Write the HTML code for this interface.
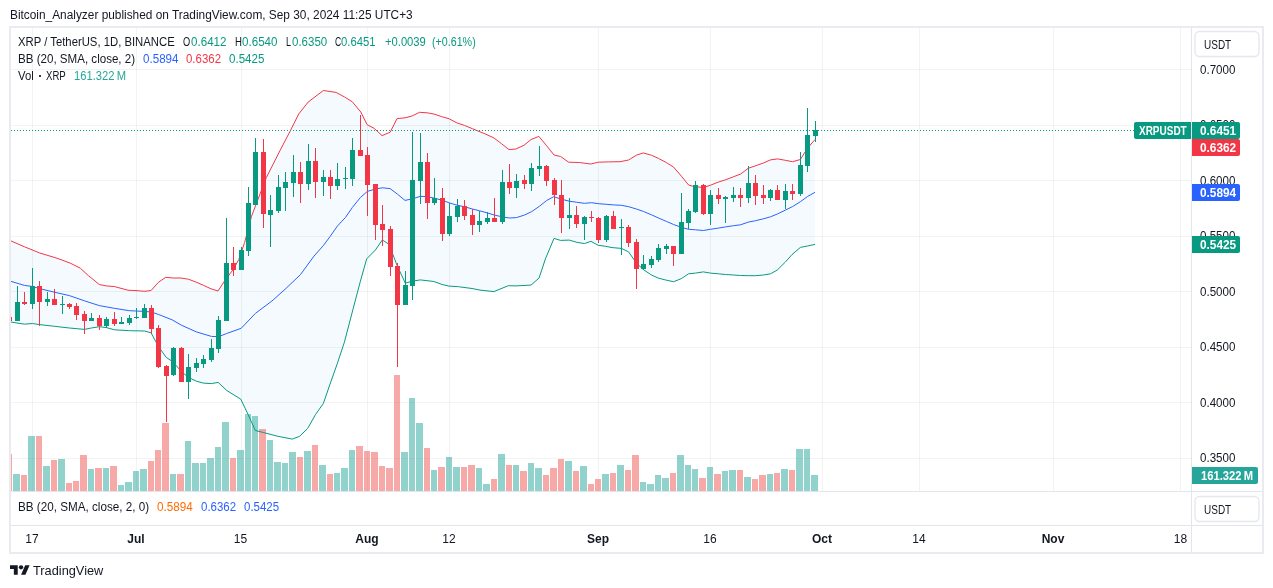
<!DOCTYPE html><html><head><meta charset="utf-8"><title>XRP / TetherUS chart</title><style>
html,body{margin:0;padding:0;background:#fff}body{width:1273px;height:588px;position:relative;overflow:hidden;font-family:"Liberation Sans",sans-serif}
svg{position:absolute;left:0;top:0}.t{position:absolute;white-space:pre;transform-origin:0 0}.lb{position:absolute}.lb .t{color:#fff;font-weight:700}
</style></head><body><div id="tx" style="position:absolute;left:0;top:0;width:1273px;height:588px;will-change:transform">
<svg width="1273" height="588" viewBox="0 0 1273 588" shape-rendering="crispEdges"><defs><clipPath id="cp"><rect x="11" y="28" width="1180" height="463"/></clipPath></defs><g><rect x="32" y="28" width="1" height="463" fill="#2a2e39" fill-opacity="0.06"/><rect x="136" y="28" width="1" height="463" fill="#2a2e39" fill-opacity="0.06"/><rect x="241" y="28" width="1" height="463" fill="#2a2e39" fill-opacity="0.06"/><rect x="367" y="28" width="1" height="463" fill="#2a2e39" fill-opacity="0.06"/><rect x="449" y="28" width="1" height="463" fill="#2a2e39" fill-opacity="0.06"/><rect x="598" y="28" width="1" height="463" fill="#2a2e39" fill-opacity="0.06"/><rect x="710" y="28" width="1" height="463" fill="#2a2e39" fill-opacity="0.06"/><rect x="822" y="28" width="1" height="463" fill="#2a2e39" fill-opacity="0.06"/><rect x="919" y="28" width="1" height="463" fill="#2a2e39" fill-opacity="0.06"/><rect x="1053" y="28" width="1" height="463" fill="#2a2e39" fill-opacity="0.06"/><rect x="1180" y="28" width="1" height="463" fill="#2a2e39" fill-opacity="0.06"/><rect x="11" y="69" width="1180" height="1" fill="#2a2e39" fill-opacity="0.06"/><rect x="11" y="125" width="1180" height="1" fill="#2a2e39" fill-opacity="0.06"/><rect x="11" y="180" width="1180" height="1" fill="#2a2e39" fill-opacity="0.06"/><rect x="11" y="236" width="1180" height="1" fill="#2a2e39" fill-opacity="0.06"/><rect x="11" y="291" width="1180" height="1" fill="#2a2e39" fill-opacity="0.06"/><rect x="11" y="347" width="1180" height="1" fill="#2a2e39" fill-opacity="0.06"/><rect x="11" y="402" width="1180" height="1" fill="#2a2e39" fill-opacity="0.06"/><rect x="11" y="458" width="1180" height="1" fill="#2a2e39" fill-opacity="0.06"/></g><g clip-path="url(#cp)"><polygon shape-rendering="geometricPrecision" fill="#2196f3" fill-opacity="0.05" points="10,240.5 24.5,246.8 39.8,253 55,257.6 62,260 70.8,263.4 80.3,268.2 88.4,275.6 99.3,284.5 106.1,285.9 114.3,286.5 127.9,290.2 136,290.6 145,291.3 151.1,290.5 158.2,282.5 165.7,277.3 173.3,278 180.8,278 188.4,279.2 195.9,282 203.4,285.3 211,288.8 218,291 224.2,281.6 229.8,274 233.6,268.9 238.8,259.4 244.6,242.5 251.5,216.3 266.3,177.6 280,150.6 290.2,131 298.7,114 308.1,102.1 323.4,90.5 336.1,92.4 344.6,97 352.3,101.8 360.8,112 367.1,124.6 374.4,128.5 382,135.6 390.2,132.2 397,118.6 405,117.8 411.8,116.1 419.5,112.3 427.1,112.8 433.9,114 441.6,116.6 449.2,118.8 456.9,122.9 464.5,125.4 472.4,128.7 485.1,133.9 493.9,137.9 501.5,143.7 509,149.6 515.9,149 524.1,145.2 531,139.5 538.9,136.4 546.7,145.8 554,155 560.6,156.5 568.7,162.2 579.4,162.5 590.7,164 598.3,162.2 608.3,161.9 620,161.7 628.6,160 636.4,155.2 643.3,152.9 651.4,155.2 658.3,158.3 666.4,162.6 673.6,167.1 681.4,176.2 688.6,185 692.6,186.2 703.3,187.6 710.5,185.2 718.3,182.1 725.5,179.8 733.6,176.7 740.5,174.1 748.4,168.2 755.5,165.8 763.4,163 770.5,159.9 777.6,158.9 785.4,160.3 792.5,161.7 800.4,159.5 807.5,148.1 815,139.5 815,244.4 807.5,246 800.4,247.4 792,254.6 785.4,262 777.1,270.2 770.5,273.8 763.3,275 755.5,275.7 748.6,275.7 740.5,275.5 733.6,275 725.5,274.5 718.3,273.8 710.5,273.1 703.3,271.9 695.5,273.1 688.6,273.8 681.4,278.6 673.6,281.7 666.4,280.2 658.3,278.1 651.4,275 643.3,269.5 636.4,263.1 628.6,251.9 621.5,248.4 612,247.6 605.7,246.3 598.2,245.3 590.9,241.3 584.4,243.6 576.8,242.3 569.3,240.1 560.5,240.4 554,238.4 545.4,258.9 539.1,278 531,285.1 515.9,285.9 508.3,285.7 493.9,291.6 480,290.1 472,288.5 458.4,286.7 448.9,286.1 442.1,284.5 433.9,281.5 420.3,279.9 412.4,281.2 405.3,283.1 397.4,266.3 389,244.3 382.3,240 375.4,250 366.7,258.9 360.4,281.2 353.1,308.9 344.4,342.2 337.2,363.9 330,384.2 323.3,403.6 315.5,414.5 307.7,428.4 299.6,436.3 292.3,439.1 277.9,436.3 263.4,432.5 255.3,430.5 248.1,414.5 240.8,399.2 226.8,390.5 218.1,382.4 211.4,383.6 203.3,383.1 196.4,381.2 188.8,377.6 181.4,371.7 173.3,362.1 166.2,357.4 158.6,346.7 151,332.8 144.5,331 129.5,330.7 114.4,329.8 106.4,327.6 99.5,326.7 91.4,328 84.4,329.4 69.4,328 54.4,326.3 39.5,324.6 32.4,323.5 24.5,324.2 10,321.9"/><rect x="5" y="454" width="7" height="37" fill="#ef5350" fill-opacity="0.5"/><rect x="13" y="474" width="7" height="17" fill="#26a69a" fill-opacity="0.5"/><rect x="21" y="475" width="6" height="16" fill="#ef5350" fill-opacity="0.5"/><rect x="28" y="436" width="7" height="55" fill="#26a69a" fill-opacity="0.5"/><rect x="36" y="436" width="6" height="55" fill="#ef5350" fill-opacity="0.5"/><rect x="43" y="466" width="7" height="25" fill="#26a69a" fill-opacity="0.5"/><rect x="51" y="460" width="6" height="31" fill="#ef5350" fill-opacity="0.5"/><rect x="58" y="459" width="7" height="32" fill="#26a69a" fill-opacity="0.5"/><rect x="66" y="483" width="6" height="8" fill="#ef5350" fill-opacity="0.5"/><rect x="73" y="481" width="6" height="10" fill="#ef5350" fill-opacity="0.5"/><rect x="80" y="455" width="7" height="36" fill="#ef5350" fill-opacity="0.5"/><rect x="88" y="469" width="6" height="22" fill="#26a69a" fill-opacity="0.5"/><rect x="95" y="468" width="7" height="23" fill="#ef5350" fill-opacity="0.5"/><rect x="103" y="468" width="6" height="23" fill="#26a69a" fill-opacity="0.5"/><rect x="110" y="466" width="7" height="25" fill="#ef5350" fill-opacity="0.5"/><rect x="118" y="485" width="6" height="6" fill="#26a69a" fill-opacity="0.5"/><rect x="125" y="482" width="7" height="9" fill="#26a69a" fill-opacity="0.5"/><rect x="133" y="471" width="6" height="20" fill="#26a69a" fill-opacity="0.5"/><rect x="140" y="469" width="7" height="22" fill="#26a69a" fill-opacity="0.5"/><rect x="148" y="461" width="6" height="30" fill="#ef5350" fill-opacity="0.5"/><rect x="155" y="450" width="6" height="41" fill="#ef5350" fill-opacity="0.5"/><rect x="162" y="423" width="7" height="68" fill="#ef5350" fill-opacity="0.5"/><rect x="170" y="474" width="6" height="17" fill="#26a69a" fill-opacity="0.5"/><rect x="177" y="474" width="7" height="17" fill="#ef5350" fill-opacity="0.5"/><rect x="185" y="441" width="6" height="50" fill="#26a69a" fill-opacity="0.5"/><rect x="192" y="463" width="7" height="28" fill="#26a69a" fill-opacity="0.5"/><rect x="200" y="463" width="6" height="28" fill="#26a69a" fill-opacity="0.5"/><rect x="207" y="458" width="7" height="33" fill="#26a69a" fill-opacity="0.5"/><rect x="215" y="447" width="6" height="44" fill="#26a69a" fill-opacity="0.5"/><rect x="222" y="422" width="7" height="69" fill="#26a69a" fill-opacity="0.5"/><rect x="230" y="458" width="6" height="33" fill="#ef5350" fill-opacity="0.5"/><rect x="237" y="450" width="7" height="41" fill="#26a69a" fill-opacity="0.5"/><rect x="245" y="414" width="6" height="77" fill="#26a69a" fill-opacity="0.5"/><rect x="252" y="416" width="6" height="75" fill="#26a69a" fill-opacity="0.5"/><rect x="259" y="429" width="7" height="62" fill="#ef5350" fill-opacity="0.5"/><rect x="267" y="440" width="6" height="51" fill="#26a69a" fill-opacity="0.5"/><rect x="274" y="462" width="7" height="29" fill="#26a69a" fill-opacity="0.5"/><rect x="282" y="463" width="6" height="28" fill="#26a69a" fill-opacity="0.5"/><rect x="289" y="452" width="7" height="39" fill="#26a69a" fill-opacity="0.5"/><rect x="297" y="457" width="6" height="34" fill="#ef5350" fill-opacity="0.5"/><rect x="304" y="451" width="7" height="40" fill="#26a69a" fill-opacity="0.5"/><rect x="312" y="445" width="6" height="46" fill="#ef5350" fill-opacity="0.5"/><rect x="319" y="465" width="7" height="26" fill="#26a69a" fill-opacity="0.5"/><rect x="327" y="474" width="6" height="17" fill="#ef5350" fill-opacity="0.5"/><rect x="334" y="473" width="6" height="18" fill="#26a69a" fill-opacity="0.5"/><rect x="341" y="468" width="7" height="23" fill="#26a69a" fill-opacity="0.5"/><rect x="349" y="450" width="6" height="41" fill="#26a69a" fill-opacity="0.5"/><rect x="356" y="446" width="7" height="45" fill="#ef5350" fill-opacity="0.5"/><rect x="364" y="451" width="6" height="40" fill="#ef5350" fill-opacity="0.5"/><rect x="371" y="452" width="7" height="39" fill="#ef5350" fill-opacity="0.5"/><rect x="379" y="466" width="6" height="25" fill="#ef5350" fill-opacity="0.5"/><rect x="386" y="468" width="7" height="23" fill="#ef5350" fill-opacity="0.5"/><rect x="394" y="375" width="6" height="116" fill="#ef5350" fill-opacity="0.5"/><rect x="401" y="452" width="7" height="39" fill="#26a69a" fill-opacity="0.5"/><rect x="409" y="398" width="6" height="93" fill="#26a69a" fill-opacity="0.5"/><rect x="416" y="423" width="7" height="68" fill="#26a69a" fill-opacity="0.5"/><rect x="424" y="448" width="6" height="43" fill="#ef5350" fill-opacity="0.5"/><rect x="431" y="470" width="6" height="21" fill="#26a69a" fill-opacity="0.5"/><rect x="438" y="467" width="7" height="24" fill="#ef5350" fill-opacity="0.5"/><rect x="446" y="457" width="6" height="34" fill="#26a69a" fill-opacity="0.5"/><rect x="453" y="467" width="7" height="24" fill="#26a69a" fill-opacity="0.5"/><rect x="461" y="467" width="6" height="24" fill="#ef5350" fill-opacity="0.5"/><rect x="468" y="465" width="7" height="26" fill="#ef5350" fill-opacity="0.5"/><rect x="476" y="468" width="6" height="23" fill="#26a69a" fill-opacity="0.5"/><rect x="483" y="484" width="7" height="7" fill="#26a69a" fill-opacity="0.5"/><rect x="491" y="479" width="6" height="12" fill="#ef5350" fill-opacity="0.5"/><rect x="498" y="454" width="7" height="37" fill="#26a69a" fill-opacity="0.5"/><rect x="506" y="465" width="6" height="26" fill="#ef5350" fill-opacity="0.5"/><rect x="513" y="465" width="6" height="26" fill="#26a69a" fill-opacity="0.5"/><rect x="520" y="471" width="7" height="20" fill="#ef5350" fill-opacity="0.5"/><rect x="528" y="463" width="6" height="28" fill="#26a69a" fill-opacity="0.5"/><rect x="535" y="468" width="7" height="23" fill="#26a69a" fill-opacity="0.5"/><rect x="543" y="475" width="6" height="16" fill="#ef5350" fill-opacity="0.5"/><rect x="550" y="468" width="7" height="23" fill="#ef5350" fill-opacity="0.5"/><rect x="558" y="459" width="6" height="32" fill="#ef5350" fill-opacity="0.5"/><rect x="565" y="461" width="7" height="30" fill="#26a69a" fill-opacity="0.5"/><rect x="573" y="471" width="6" height="20" fill="#ef5350" fill-opacity="0.5"/><rect x="580" y="466" width="7" height="25" fill="#26a69a" fill-opacity="0.5"/><rect x="588" y="484" width="6" height="7" fill="#ef5350" fill-opacity="0.5"/><rect x="595" y="479" width="6" height="12" fill="#ef5350" fill-opacity="0.5"/><rect x="602" y="474" width="7" height="17" fill="#26a69a" fill-opacity="0.5"/><rect x="610" y="473" width="6" height="18" fill="#ef5350" fill-opacity="0.5"/><rect x="617" y="465" width="7" height="26" fill="#26a69a" fill-opacity="0.5"/><rect x="625" y="470" width="6" height="21" fill="#ef5350" fill-opacity="0.5"/><rect x="632" y="455" width="7" height="36" fill="#ef5350" fill-opacity="0.5"/><rect x="640" y="482" width="6" height="9" fill="#26a69a" fill-opacity="0.5"/><rect x="647" y="484" width="7" height="7" fill="#26a69a" fill-opacity="0.5"/><rect x="655" y="475" width="6" height="16" fill="#26a69a" fill-opacity="0.5"/><rect x="662" y="478" width="7" height="13" fill="#26a69a" fill-opacity="0.5"/><rect x="670" y="473" width="6" height="18" fill="#ef5350" fill-opacity="0.5"/><rect x="677" y="455" width="7" height="36" fill="#26a69a" fill-opacity="0.5"/><rect x="685" y="465" width="6" height="26" fill="#26a69a" fill-opacity="0.5"/><rect x="692" y="469" width="6" height="22" fill="#26a69a" fill-opacity="0.5"/><rect x="699" y="478" width="7" height="13" fill="#ef5350" fill-opacity="0.5"/><rect x="707" y="467" width="6" height="24" fill="#26a69a" fill-opacity="0.5"/><rect x="714" y="474" width="7" height="17" fill="#ef5350" fill-opacity="0.5"/><rect x="722" y="471" width="6" height="20" fill="#26a69a" fill-opacity="0.5"/><rect x="729" y="470" width="7" height="21" fill="#26a69a" fill-opacity="0.5"/><rect x="737" y="470" width="6" height="21" fill="#ef5350" fill-opacity="0.5"/><rect x="744" y="477" width="7" height="14" fill="#26a69a" fill-opacity="0.5"/><rect x="752" y="479" width="6" height="12" fill="#ef5350" fill-opacity="0.5"/><rect x="759" y="475" width="7" height="16" fill="#ef5350" fill-opacity="0.5"/><rect x="767" y="474" width="6" height="17" fill="#26a69a" fill-opacity="0.5"/><rect x="774" y="473" width="6" height="18" fill="#ef5350" fill-opacity="0.5"/><rect x="781" y="469" width="7" height="22" fill="#26a69a" fill-opacity="0.5"/><rect x="789" y="470" width="6" height="21" fill="#ef5350" fill-opacity="0.5"/><rect x="796" y="449" width="7" height="42" fill="#26a69a" fill-opacity="0.5"/><rect x="804" y="449" width="6" height="42" fill="#26a69a" fill-opacity="0.5"/><rect x="811" y="475" width="7" height="16" fill="#26a69a" fill-opacity="0.5"/><polyline shape-rendering="geometricPrecision" fill="none" stroke="#f23645" stroke-width="1" stroke-linejoin="round" points="10,240.5 24.5,246.8 39.8,253 55,257.6 62,260 70.8,263.4 80.3,268.2 88.4,275.6 99.3,284.5 106.1,285.9 114.3,286.5 127.9,290.2 136,290.6 145,291.3 151.1,290.5 158.2,282.5 165.7,277.3 173.3,278 180.8,278 188.4,279.2 195.9,282 203.4,285.3 211,288.8 218,291 224.2,281.6 229.8,274 233.6,268.9 238.8,259.4 244.6,242.5 251.5,216.3 266.3,177.6 280,150.6 290.2,131 298.7,114 308.1,102.1 323.4,90.5 336.1,92.4 344.6,97 352.3,101.8 360.8,112 367.1,124.6 374.4,128.5 382,135.6 390.2,132.2 397,118.6 405,117.8 411.8,116.1 419.5,112.3 427.1,112.8 433.9,114 441.6,116.6 449.2,118.8 456.9,122.9 464.5,125.4 472.4,128.7 485.1,133.9 493.9,137.9 501.5,143.7 509,149.6 515.9,149 524.1,145.2 531,139.5 538.9,136.4 546.7,145.8 554,155 560.6,156.5 568.7,162.2 579.4,162.5 590.7,164 598.3,162.2 608.3,161.9 620,161.7 628.6,160 636.4,155.2 643.3,152.9 651.4,155.2 658.3,158.3 666.4,162.6 673.6,167.1 681.4,176.2 688.6,185 692.6,186.2 703.3,187.6 710.5,185.2 718.3,182.1 725.5,179.8 733.6,176.7 740.5,174.1 748.4,168.2 755.5,165.8 763.4,163 770.5,159.9 777.6,158.9 785.4,160.3 792.5,161.7 800.4,159.5 807.5,148.1 815,139.5"/><polyline shape-rendering="geometricPrecision" fill="none" stroke="#089981" stroke-width="1" stroke-linejoin="round" points="10,321.9 24.5,324.2 32.4,323.5 39.5,324.6 54.4,326.3 69.4,328 84.4,329.4 91.4,328 99.5,326.7 106.4,327.6 114.4,329.8 129.5,330.7 144.5,331 151,332.8 158.6,346.7 166.2,357.4 173.3,362.1 181.4,371.7 188.8,377.6 196.4,381.2 203.3,383.1 211.4,383.6 218.1,382.4 226.8,390.5 240.8,399.2 248.1,414.5 255.3,430.5 263.4,432.5 277.9,436.3 292.3,439.1 299.6,436.3 307.7,428.4 315.5,414.5 323.3,403.6 330,384.2 337.2,363.9 344.4,342.2 353.1,308.9 360.4,281.2 366.7,258.9 375.4,250 382.3,240 389,244.3 397.4,266.3 405.3,283.1 412.4,281.2 420.3,279.9 433.9,281.5 442.1,284.5 448.9,286.1 458.4,286.7 472,288.5 480,290.1 493.9,291.6 508.3,285.7 515.9,285.9 531,285.1 539.1,278 545.4,258.9 554,238.4 560.5,240.4 569.3,240.1 576.8,242.3 584.4,243.6 590.9,241.3 598.2,245.3 605.7,246.3 612,247.6 621.5,248.4 628.6,251.9 636.4,263.1 643.3,269.5 651.4,275 658.3,278.1 666.4,280.2 673.6,281.7 681.4,278.6 688.6,273.8 695.5,273.1 703.3,271.9 710.5,273.1 718.3,273.8 725.5,274.5 733.6,275 740.5,275.5 748.6,275.7 755.5,275.7 763.3,275 770.5,273.8 777.1,270.2 785.4,262 792,254.6 800.4,247.4 807.5,246 815,244.4"/><polyline shape-rendering="geometricPrecision" fill="none" stroke="#2962ff" stroke-width="1" stroke-linejoin="round" points="10,281.1 24.5,285.4 32.4,286.5 39.5,288.6 54.4,292.2 69.4,295.6 84.4,300.8 99.3,305.6 114.3,308.3 129.3,310.7 144.2,311.4 151.4,312 158.6,314.5 172.1,319.8 181.4,325.2 196.4,331.9 211.4,336.4 218.6,336.7 226.4,333.6 241.2,328.3 255.5,313.3 269.8,302.6 273.1,300 285,289.3 300.3,274.8 314,256.1 323.4,245.5 330,236.6 337.3,226.2 345.5,217.4 352.4,207.4 360.4,197.5 367.4,191.4 375.4,189 382.3,187.8 390.1,188.6 397.4,194.1 405,200.4 412.6,198.8 420.5,196.3 427.4,196.7 434.4,198.2 442.3,200.2 449.3,202.9 457.4,205.3 464.4,206.7 472.3,209 479.6,210.8 487.3,212.9 494.5,215.1 502.4,216.9 509.4,218 516.5,217.6 524.3,215.1 531.4,211.8 539.4,206.3 546.5,200.6 553.7,196.7 561.4,199.2 569.4,201.2 576.3,202.2 584.5,203.3 591.4,202.7 598.6,203.7 606.3,204.3 613.5,204.9 621.4,205.3 628.6,206.7 636.4,209 643.3,211.4 651.4,214.8 658.3,217.9 666.4,221.4 673.6,224.5 681.4,227.4 688.6,229.3 695.5,229.8 703.3,230.5 710.5,229.3 718.3,228.1 725.5,226.9 733.6,225.7 740.5,224.8 748.4,222.1 755.5,220.7 763.4,218.8 770.5,216.8 777.6,213.9 785.4,210.1 792.5,206.6 800.4,201.7 807.5,196.5 815,192.3"/><line x1="11" y1="130.5" x2="1134" y2="130.5" stroke="#089981" stroke-width="1" stroke-dasharray="1 2"/><rect x="9" y="317" width="1" height="4" fill="#f23645"/><rect x="7" y="317" width="5" height="4" fill="#f23645"/><rect x="17" y="286" width="1" height="35" fill="#089981"/><rect x="15" y="302" width="5" height="19" fill="#089981"/><rect x="24" y="292" width="1" height="13" fill="#f23645"/><rect x="22" y="302" width="5" height="2" fill="#f23645"/><rect x="32" y="268" width="1" height="41" fill="#089981"/><rect x="30" y="286" width="5" height="18" fill="#089981"/><rect x="39" y="281" width="1" height="45" fill="#f23645"/><rect x="37" y="286" width="5" height="16" fill="#f23645"/><rect x="47" y="292" width="1" height="14" fill="#089981"/><rect x="45" y="299" width="5" height="3" fill="#089981"/><rect x="54" y="289" width="1" height="16" fill="#f23645"/><rect x="52" y="299" width="5" height="6" fill="#f23645"/><rect x="62" y="296" width="1" height="18" fill="#089981"/><rect x="60" y="304" width="5" height="1" fill="#089981"/><rect x="69" y="303" width="1" height="6" fill="#f23645"/><rect x="67" y="304" width="5" height="3" fill="#f23645"/><rect x="76" y="303" width="1" height="17" fill="#f23645"/><rect x="74" y="306" width="5" height="9" fill="#f23645"/><rect x="84" y="311" width="1" height="23" fill="#f23645"/><rect x="82" y="314" width="5" height="7" fill="#f23645"/><rect x="91" y="313" width="1" height="8" fill="#089981"/><rect x="89" y="318" width="5" height="3" fill="#089981"/><rect x="99" y="315" width="1" height="15" fill="#f23645"/><rect x="97" y="318" width="5" height="8" fill="#f23645"/><rect x="106" y="317" width="1" height="11" fill="#089981"/><rect x="104" y="319" width="5" height="7" fill="#089981"/><rect x="114" y="312" width="1" height="14" fill="#f23645"/><rect x="112" y="319" width="5" height="5" fill="#f23645"/><rect x="121" y="317" width="1" height="7" fill="#089981"/><rect x="119" y="322" width="5" height="2" fill="#089981"/><rect x="129" y="315" width="1" height="10" fill="#089981"/><rect x="127" y="318" width="5" height="5" fill="#089981"/><rect x="136" y="308" width="1" height="11" fill="#089981"/><rect x="134" y="317" width="5" height="1" fill="#089981"/><rect x="144" y="304" width="1" height="14" fill="#089981"/><rect x="142" y="308" width="5" height="10" fill="#089981"/><rect x="151" y="305" width="1" height="29" fill="#f23645"/><rect x="149" y="308" width="5" height="21" fill="#f23645"/><rect x="158" y="325" width="1" height="43" fill="#f23645"/><rect x="156" y="328" width="5" height="39" fill="#f23645"/><rect x="166" y="365" width="1" height="57" fill="#f23645"/><rect x="164" y="366" width="5" height="10" fill="#f23645"/><rect x="173" y="347" width="1" height="29" fill="#089981"/><rect x="171" y="348" width="5" height="27" fill="#089981"/><rect x="181" y="347" width="1" height="35" fill="#f23645"/><rect x="179" y="348" width="5" height="34" fill="#f23645"/><rect x="188" y="354" width="1" height="45" fill="#089981"/><rect x="186" y="367" width="5" height="15" fill="#089981"/><rect x="196" y="358" width="1" height="14" fill="#089981"/><rect x="194" y="363" width="5" height="5" fill="#089981"/><rect x="203" y="355" width="1" height="13" fill="#089981"/><rect x="201" y="359" width="5" height="5" fill="#089981"/><rect x="211" y="339" width="1" height="23" fill="#089981"/><rect x="209" y="348" width="5" height="12" fill="#089981"/><rect x="218" y="316" width="1" height="37" fill="#089981"/><rect x="216" y="320" width="5" height="29" fill="#089981"/><rect x="226" y="218" width="1" height="103" fill="#089981"/><rect x="224" y="263" width="5" height="58" fill="#089981"/><rect x="233" y="247" width="1" height="29" fill="#f23645"/><rect x="231" y="263" width="5" height="7" fill="#f23645"/><rect x="241" y="247" width="1" height="23" fill="#089981"/><rect x="239" y="250" width="5" height="20" fill="#089981"/><rect x="248" y="187" width="1" height="69" fill="#089981"/><rect x="246" y="203" width="5" height="48" fill="#089981"/><rect x="255" y="138" width="1" height="67" fill="#089981"/><rect x="253" y="152" width="5" height="53" fill="#089981"/><rect x="263" y="139" width="1" height="89" fill="#f23645"/><rect x="261" y="152" width="5" height="62" fill="#f23645"/><rect x="270" y="195" width="1" height="52" fill="#089981"/><rect x="268" y="210" width="5" height="5" fill="#089981"/><rect x="278" y="175" width="1" height="38" fill="#089981"/><rect x="276" y="187" width="5" height="24" fill="#089981"/><rect x="285" y="172" width="1" height="39" fill="#089981"/><rect x="283" y="182" width="5" height="6" fill="#089981"/><rect x="293" y="155" width="1" height="42" fill="#089981"/><rect x="291" y="172" width="5" height="11" fill="#089981"/><rect x="300" y="162" width="1" height="41" fill="#f23645"/><rect x="298" y="172" width="5" height="12" fill="#f23645"/><rect x="308" y="144" width="1" height="46" fill="#089981"/><rect x="306" y="161" width="5" height="23" fill="#089981"/><rect x="315" y="148" width="1" height="50" fill="#f23645"/><rect x="313" y="161" width="5" height="21" fill="#f23645"/><rect x="323" y="170" width="1" height="26" fill="#089981"/><rect x="321" y="177" width="5" height="5" fill="#089981"/><rect x="330" y="170" width="1" height="29" fill="#f23645"/><rect x="328" y="177" width="5" height="9" fill="#f23645"/><rect x="337" y="163" width="1" height="27" fill="#089981"/><rect x="335" y="179" width="5" height="7" fill="#089981"/><rect x="345" y="167" width="1" height="22" fill="#089981"/><rect x="343" y="178" width="5" height="1" fill="#089981"/><rect x="352" y="138" width="1" height="48" fill="#089981"/><rect x="350" y="150" width="5" height="29" fill="#089981"/><rect x="360" y="115" width="1" height="41" fill="#f23645"/><rect x="358" y="150" width="5" height="6" fill="#f23645"/><rect x="367" y="147" width="1" height="69" fill="#f23645"/><rect x="365" y="155" width="5" height="30" fill="#f23645"/><rect x="375" y="184" width="1" height="56" fill="#f23645"/><rect x="373" y="184" width="5" height="41" fill="#f23645"/><rect x="382" y="205" width="1" height="41" fill="#f23645"/><rect x="380" y="224" width="5" height="6" fill="#f23645"/><rect x="390" y="226" width="1" height="50" fill="#f23645"/><rect x="388" y="229" width="5" height="38" fill="#f23645"/><rect x="397" y="263" width="1" height="104" fill="#f23645"/><rect x="395" y="266" width="5" height="39" fill="#f23645"/><rect x="405" y="271" width="1" height="34" fill="#089981"/><rect x="403" y="285" width="5" height="20" fill="#089981"/><rect x="412" y="132" width="1" height="168" fill="#089981"/><rect x="410" y="180" width="5" height="106" fill="#089981"/><rect x="420" y="133" width="1" height="71" fill="#089981"/><rect x="418" y="162" width="5" height="19" fill="#089981"/><rect x="427" y="153" width="1" height="66" fill="#f23645"/><rect x="425" y="162" width="5" height="41" fill="#f23645"/><rect x="434" y="178" width="1" height="27" fill="#089981"/><rect x="432" y="198" width="5" height="5" fill="#089981"/><rect x="442" y="188" width="1" height="53" fill="#f23645"/><rect x="440" y="198" width="5" height="36" fill="#f23645"/><rect x="449" y="203" width="1" height="33" fill="#089981"/><rect x="447" y="216" width="5" height="18" fill="#089981"/><rect x="457" y="199" width="1" height="23" fill="#089981"/><rect x="455" y="206" width="5" height="11" fill="#089981"/><rect x="464" y="200" width="1" height="20" fill="#f23645"/><rect x="462" y="206" width="5" height="10" fill="#f23645"/><rect x="472" y="209" width="1" height="26" fill="#f23645"/><rect x="470" y="215" width="5" height="10" fill="#f23645"/><rect x="479" y="211" width="1" height="21" fill="#089981"/><rect x="477" y="221" width="5" height="4" fill="#089981"/><rect x="487" y="212" width="1" height="12" fill="#089981"/><rect x="485" y="218" width="5" height="4" fill="#089981"/><rect x="494" y="198" width="1" height="24" fill="#f23645"/><rect x="492" y="218" width="5" height="4" fill="#f23645"/><rect x="502" y="170" width="1" height="54" fill="#089981"/><rect x="500" y="182" width="5" height="40" fill="#089981"/><rect x="509" y="164" width="1" height="30" fill="#f23645"/><rect x="507" y="182" width="5" height="6" fill="#f23645"/><rect x="516" y="174" width="1" height="24" fill="#089981"/><rect x="514" y="181" width="5" height="7" fill="#089981"/><rect x="524" y="175" width="1" height="14" fill="#f23645"/><rect x="522" y="180" width="5" height="4" fill="#f23645"/><rect x="531" y="163" width="1" height="28" fill="#089981"/><rect x="529" y="168" width="5" height="16" fill="#089981"/><rect x="539" y="146" width="1" height="30" fill="#089981"/><rect x="537" y="166" width="5" height="3" fill="#089981"/><rect x="546" y="165" width="1" height="21" fill="#f23645"/><rect x="544" y="166" width="5" height="15" fill="#f23645"/><rect x="554" y="178" width="1" height="27" fill="#f23645"/><rect x="552" y="180" width="5" height="15" fill="#f23645"/><rect x="561" y="180" width="1" height="53" fill="#f23645"/><rect x="559" y="195" width="5" height="23" fill="#f23645"/><rect x="569" y="198" width="1" height="31" fill="#089981"/><rect x="567" y="215" width="5" height="3" fill="#089981"/><rect x="576" y="206" width="1" height="22" fill="#f23645"/><rect x="574" y="215" width="5" height="9" fill="#f23645"/><rect x="584" y="216" width="1" height="24" fill="#089981"/><rect x="582" y="217" width="5" height="7" fill="#089981"/><rect x="591" y="211" width="1" height="11" fill="#f23645"/><rect x="589" y="217" width="5" height="1" fill="#f23645"/><rect x="598" y="217" width="1" height="26" fill="#f23645"/><rect x="596" y="218" width="5" height="22" fill="#f23645"/><rect x="606" y="215" width="1" height="27" fill="#089981"/><rect x="604" y="216" width="5" height="24" fill="#089981"/><rect x="613" y="211" width="1" height="18" fill="#f23645"/><rect x="611" y="216" width="5" height="13" fill="#f23645"/><rect x="621" y="219" width="1" height="36" fill="#089981"/><rect x="619" y="227" width="5" height="1" fill="#089981"/><rect x="628" y="225" width="1" height="22" fill="#f23645"/><rect x="626" y="227" width="5" height="16" fill="#f23645"/><rect x="636" y="239" width="1" height="50" fill="#f23645"/><rect x="634" y="242" width="5" height="27" fill="#f23645"/><rect x="643" y="255" width="1" height="15" fill="#089981"/><rect x="641" y="264" width="5" height="5" fill="#089981"/><rect x="651" y="256" width="1" height="12" fill="#089981"/><rect x="649" y="259" width="5" height="6" fill="#089981"/><rect x="658" y="244" width="1" height="18" fill="#089981"/><rect x="656" y="248" width="5" height="12" fill="#089981"/><rect x="666" y="244" width="1" height="10" fill="#089981"/><rect x="664" y="246" width="5" height="3" fill="#089981"/><rect x="673" y="246" width="1" height="20" fill="#f23645"/><rect x="671" y="246" width="5" height="8" fill="#f23645"/><rect x="681" y="193" width="1" height="61" fill="#089981"/><rect x="679" y="222" width="5" height="32" fill="#089981"/><rect x="688" y="209" width="1" height="20" fill="#089981"/><rect x="686" y="211" width="5" height="12" fill="#089981"/><rect x="695" y="181" width="1" height="32" fill="#089981"/><rect x="693" y="185" width="5" height="27" fill="#089981"/><rect x="703" y="184" width="1" height="31" fill="#f23645"/><rect x="701" y="185" width="5" height="29" fill="#f23645"/><rect x="710" y="190" width="1" height="35" fill="#089981"/><rect x="708" y="195" width="5" height="19" fill="#089981"/><rect x="718" y="188" width="1" height="16" fill="#f23645"/><rect x="716" y="195" width="5" height="4" fill="#f23645"/><rect x="725" y="196" width="1" height="27" fill="#089981"/><rect x="723" y="197" width="5" height="2" fill="#089981"/><rect x="733" y="187" width="1" height="15" fill="#089981"/><rect x="731" y="195" width="5" height="3" fill="#089981"/><rect x="740" y="188" width="1" height="19" fill="#f23645"/><rect x="738" y="195" width="5" height="3" fill="#f23645"/><rect x="748" y="166" width="1" height="37" fill="#089981"/><rect x="746" y="183" width="5" height="15" fill="#089981"/><rect x="755" y="175" width="1" height="30" fill="#f23645"/><rect x="753" y="183" width="5" height="13" fill="#f23645"/><rect x="763" y="185" width="1" height="19" fill="#f23645"/><rect x="761" y="195" width="5" height="3" fill="#f23645"/><rect x="770" y="189" width="1" height="12" fill="#089981"/><rect x="768" y="190" width="5" height="8" fill="#089981"/><rect x="777" y="185" width="1" height="15" fill="#f23645"/><rect x="775" y="190" width="5" height="10" fill="#f23645"/><rect x="785" y="184" width="1" height="25" fill="#089981"/><rect x="783" y="191" width="5" height="9" fill="#089981"/><rect x="792" y="184" width="1" height="16" fill="#f23645"/><rect x="790" y="191" width="5" height="3" fill="#f23645"/><rect x="800" y="152" width="1" height="44" fill="#089981"/><rect x="798" y="165" width="5" height="29" fill="#089981"/><rect x="807" y="108" width="1" height="64" fill="#089981"/><rect x="805" y="135" width="5" height="31" fill="#089981"/><rect x="815" y="121" width="1" height="21" fill="#089981"/><rect x="813" y="130" width="5" height="6" fill="#089981"/></g><rect x="10" y="27" width="1253" height="526" fill="none" stroke="#e9ebf1" stroke-width="2"/><rect x="1191" y="28" width="1" height="524" fill="#e3e5ec"/><rect x="11" y="491" width="1251" height="1" fill="#e3e5ec"/><rect x="11" y="525" width="1251" height="1" fill="#e3e5ec"/><rect shape-rendering="geometricPrecision" x="1195" y="31.5" width="64" height="25" rx="4.5" fill="#fff" stroke="#e6e8ef" stroke-width="1.4"/><rect shape-rendering="geometricPrecision" x="1195" y="496.5" width="64" height="25" rx="4.5" fill="#fff" stroke="#e6e8ef" stroke-width="1.4"/><rect x="39" y="75" width="2" height="2" fill="#131722" fill-opacity="0.85"/></svg>
<svg width="1273" height="588" viewBox="0 0 1273 588" style="pointer-events:none"><g transform="translate(10,563.2) scale(0.552,0.52)" fill="#131722"><path d="M14 22H7V11H0V4h14v18z"/><circle cx="20" cy="8" r="4"/><path d="M28 22h-8l7.500-18h8L28 22z"/></g></svg>
<span class="t" id="t0" style="top:9.00px;font-size:12px;line-height:12px;color:#131722;left:10.10px;transform:scaleX(0.9883);">Bitcoin_Analyzer published on TradingView.com, Sep 30, 2024 11:25 UTC+3</span>
<span class="t" id="t1" style="top:36.00px;font-size:12px;line-height:12px;color:#131722;left:17.90px;transform:scaleX(0.9423);">XRP / TetherUS, 1D, BINANCE</span>
<span class="t" id="t2" style="top:36.00px;font-size:12px;line-height:12px;color:#131722;left:183.20px;transform:scaleX(0.7706);">O</span>
<span class="t" id="t3" style="top:36.00px;font-size:12px;line-height:12px;color:#089981;left:191.10px;transform:scaleX(0.9672);">0.6412</span>
<span class="t" id="t4" style="top:36.00px;font-size:12px;line-height:12px;color:#131722;left:234.70px;transform:scaleX(0.7957);">H</span>
<span class="t" id="t5" style="top:36.00px;font-size:12px;line-height:12px;color:#089981;left:242.30px;transform:scaleX(0.9672);">0.6540</span>
<span class="t" id="t6" style="top:36.00px;font-size:12px;line-height:12px;color:#131722;left:285.90px;transform:scaleX(0.7477);">L</span>
<span class="t" id="t7" style="top:36.00px;font-size:12px;line-height:12px;color:#089981;left:291.70px;transform:scaleX(0.9590);">0.6350</span>
<span class="t" id="t8" style="top:36.00px;font-size:12px;line-height:12px;color:#131722;left:334.50px;transform:scaleX(0.7150);">C</span>
<span class="t" id="t9" style="top:36.00px;font-size:12px;line-height:12px;color:#089981;left:341.40px;transform:scaleX(0.9400);">0.6451</span>
<span class="t" id="t10" style="top:36.00px;font-size:12px;line-height:12px;color:#089981;left:385.40px;transform:scaleX(0.9332);">+0.0039</span>
<span class="t" id="t11" style="top:36.00px;font-size:12px;line-height:12px;color:#089981;left:431.50px;transform:scaleX(0.8913);">(+0.61%)</span>
<span class="t" id="t12" style="top:53.00px;font-size:12px;line-height:12px;color:#131722;left:17.90px;transform:scaleX(0.9647);">BB (20, SMA, close, 2)</span>
<span class="t" id="t13" style="top:53.00px;font-size:12px;line-height:12px;color:#2962ff;left:142.90px;transform:scaleX(0.9672);">0.5894</span>
<span class="t" id="t14" style="top:53.00px;font-size:12px;line-height:12px;color:#f23645;left:186.30px;transform:scaleX(0.9536);">0.6362</span>
<span class="t" id="t15" style="top:53.00px;font-size:12px;line-height:12px;color:#089981;left:229.10px;transform:scaleX(0.9645);">0.5425</span>
<span class="t" id="t16" style="top:70.00px;font-size:12px;line-height:12px;color:#131722;left:17.90px;transform:scaleX(0.9408);">Vol</span>
<span class="t" id="t17" style="top:70.00px;font-size:12px;line-height:12px;color:#131722;left:45.80px;transform:scaleX(0.8020);">XRP</span>
<span class="t" id="t18" style="top:70.00px;font-size:12px;line-height:12px;color:#26a69a;left:73.90px;transform:scaleX(0.9340);">161.322 M</span>
<span class="t" id="t19" style="top:501.00px;font-size:12px;line-height:12px;color:#131722;left:18.20px;transform:scaleX(0.9731);">BB (20, SMA, close, 2, 0)</span>
<span class="t" id="t20" style="top:501.00px;font-size:12px;line-height:12px;color:#ff6d00;left:157.40px;transform:scaleX(0.9754);">0.5894</span>
<span class="t" id="t21" style="top:501.00px;font-size:12px;line-height:12px;color:#2962ff;left:200.70px;transform:scaleX(0.9563);">0.6362</span>
<span class="t" id="t22" style="top:501.00px;font-size:12px;line-height:12px;color:#2962ff;left:243.90px;transform:scaleX(0.9563);">0.5425</span>
<span class="t" id="t23" style="top:533.00px;font-size:12px;line-height:12px;color:#131722;left:-18.00px;width:100px;text-align:center;">17</span>
<span class="t" id="t24" style="top:533.00px;font-size:12px;line-height:12px;color:#131722;font-weight:700;left:86.00px;width:100px;text-align:center;">Jul</span>
<span class="t" id="t25" style="top:533.00px;font-size:12px;line-height:12px;color:#131722;left:190.50px;width:100px;text-align:center;">15</span>
<span class="t" id="t26" style="top:533.00px;font-size:12px;line-height:12px;color:#131722;font-weight:700;left:317.00px;width:100px;text-align:center;">Aug</span>
<span class="t" id="t27" style="top:533.00px;font-size:12px;line-height:12px;color:#131722;left:399.00px;width:100px;text-align:center;">12</span>
<span class="t" id="t28" style="top:533.00px;font-size:12px;line-height:12px;color:#131722;font-weight:700;left:548.00px;width:100px;text-align:center;">Sep</span>
<span class="t" id="t29" style="top:533.00px;font-size:12px;line-height:12px;color:#131722;left:660.00px;width:100px;text-align:center;">16</span>
<span class="t" id="t30" style="top:533.00px;font-size:12px;line-height:12px;color:#131722;font-weight:700;left:772.00px;width:100px;text-align:center;">Oct</span>
<span class="t" id="t31" style="top:533.00px;font-size:12px;line-height:12px;color:#131722;left:869.00px;width:100px;text-align:center;">14</span>
<span class="t" id="t32" style="top:533.00px;font-size:12px;line-height:12px;color:#131722;font-weight:700;left:1003.00px;width:100px;text-align:center;">Nov</span>
<span class="t" id="t33" style="top:533.00px;font-size:12px;line-height:12px;color:#131722;left:1130.40px;width:100px;text-align:center;">18</span>
<span class="t" id="t34" style="top:64.00px;font-size:12px;line-height:12px;color:#131722;left:1200.20px;transform:scaleX(0.9645);">0.7000</span>
<span class="t" id="t35" style="top:119.00px;font-size:12px;line-height:12px;color:#131722;left:1200.20px;transform:scaleX(0.9645);">0.6500</span>
<span class="t" id="t36" style="top:175.00px;font-size:12px;line-height:12px;color:#131722;left:1200.20px;transform:scaleX(0.9645);">0.6000</span>
<span class="t" id="t37" style="top:230.00px;font-size:12px;line-height:12px;color:#131722;left:1200.20px;transform:scaleX(0.9645);">0.5500</span>
<span class="t" id="t38" style="top:286.00px;font-size:12px;line-height:12px;color:#131722;left:1200.20px;transform:scaleX(0.9645);">0.5000</span>
<span class="t" id="t39" style="top:341.00px;font-size:12px;line-height:12px;color:#131722;left:1200.20px;transform:scaleX(0.9645);">0.4500</span>
<span class="t" id="t40" style="top:397.00px;font-size:12px;line-height:12px;color:#131722;left:1200.20px;transform:scaleX(0.9645);">0.4000</span>
<span class="t" id="t41" style="top:452.00px;font-size:12px;line-height:12px;color:#131722;left:1200.20px;transform:scaleX(0.9645);">0.3500</span>
<span class="t" id="t42" style="top:39.00px;font-size:12px;line-height:12px;color:#131722;left:1204.30px;transform:scaleX(0.8325);">USDT</span>
<span class="t" id="t43" style="top:504.00px;font-size:12px;line-height:12px;color:#131722;left:1204.30px;transform:scaleX(0.8325);">USDT</span>
<span class="t" id="t44" style="top:564.00px;font-size:13px;line-height:13px;color:#131722;left:32.80px;transform:scaleX(0.9826);">TradingView</span>
<div class="lb" style="left:1134px;top:122px;width:57px;height:17px;background:#089981;border-radius:2px 0 0 2px"><span class="t" id="t45" style="left:5.10px;top:2.74px;font-size:12px;line-height:12px;transform:scaleX(0.8318)">XRPUSDT</span></div>
<div class="lb" style="left:1192px;top:122px;width:48px;height:17px;background:#089981;border-radius:0 2px 2px 0"><span class="t" id="t46" style="left:7.80px;top:2.74px;font-size:12px;line-height:12px;transform:scaleX(0.9863)">0.6451</span></div>
<div class="lb" style="left:1192px;top:139px;width:48px;height:17px;background:#f23645;border-radius:0 2px 2px 0"><span class="t" id="t47" style="left:7.80px;top:2.74px;font-size:12px;line-height:12px;transform:scaleX(0.9863)">0.6362</span></div>
<div class="lb" style="left:1192px;top:184px;width:48px;height:17px;background:#2962ff;border-radius:0 2px 2px 0"><span class="t" id="t48" style="left:7.80px;top:2.74px;font-size:12px;line-height:12px;transform:scaleX(0.9863)">0.5894</span></div>
<div class="lb" style="left:1192px;top:236px;width:48px;height:17px;background:#089981;border-radius:0 2px 2px 0"><span class="t" id="t49" style="left:7.80px;top:2.74px;font-size:12px;line-height:12px;transform:scaleX(0.9863)">0.5425</span></div>
<div class="lb" style="left:1192px;top:467px;width:66px;height:17px;background:#26a69a;border-radius:0 2px 2px 0"><span class="t" id="t50" style="left:8.50px;top:2.74px;font-size:12px;line-height:12px;transform:scaleX(0.9340)">161.322 M</span></div>
</div></body></html>
